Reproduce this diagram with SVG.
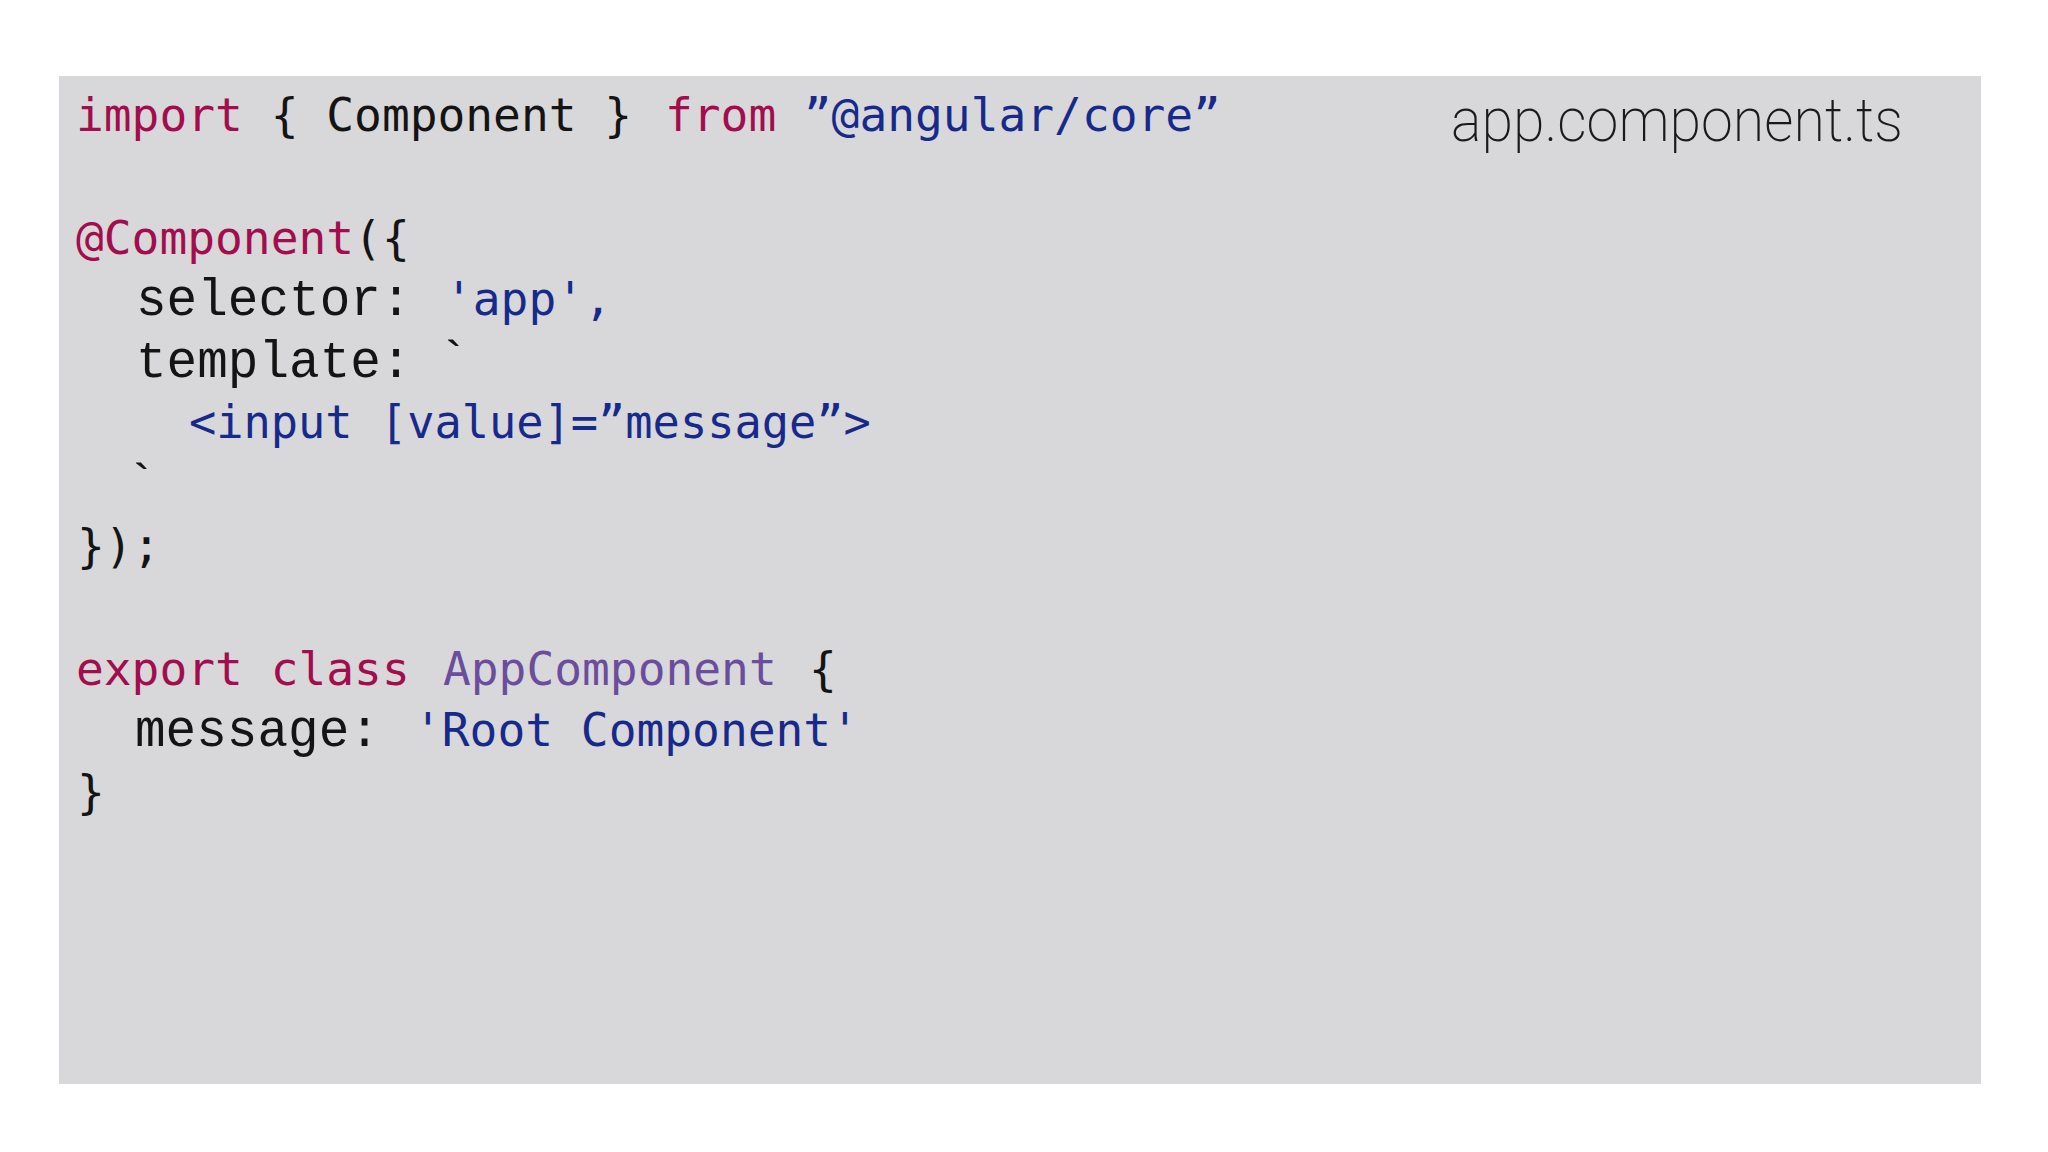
<svg xmlns="http://www.w3.org/2000/svg" width="2048" height="1152" viewBox="0 0 2048 1152">
  <style>
    .code { font-family: "DejaVu Sans Mono", "Liberation Mono", monospace; font-size: 46.2px; }
    .ser { font-family: "Liberation Mono", "DejaVu Sans Mono", monospace; font-size: 51px; fill: #141414; }
    .kw { fill: #a20d4e; }
    .str { fill: #172a8c; }
    .cls { fill: #6b4d9e; }
    .pl { fill: #141414; }
    .title { font-family: Roboto, Inter, "Liberation Sans", sans-serif; font-weight: 200; font-size: 61px; fill: #1a1a1a; }
  </style>
  <rect x="0" y="0" width="2048" height="1152" fill="#ffffff"/>
  <g id="panel">
    <rect x="59" y="76" width="1922" height="1008" fill="#d8d7d9"/>
  </g>
  <g id="title">
    <text class="title" x="1451" y="141" textLength="452" lengthAdjust="spacingAndGlyphs">app.component.ts</text>
  </g>
  <g id="code" xml:space="preserve">
    <text class="code" x="76" y="131"><tspan class="kw">import</tspan><tspan class="pl"> { Component } </tspan><tspan class="kw" x="665">from</tspan><tspan class="str" x="776"> ”@angular/core”</tspan></text>
    <text class="code" x="76" y="254"><tspan class="kw">@Component</tspan><tspan class="pl">({</tspan></text>
    <text class="ser" x="136" y="315">selector:</text>
    <text class="code str" x="445" y="315">'app',</text>
    <text class="ser" x="136" y="377">template:</text>
    <text class="ser" x="438" y="377">`</text>
    <text class="code str" x="189" y="438" style="font-size:45.3px">&lt;input [value]=”message”&gt;</text>
    <text class="ser" x="126" y="500">`</text>
    <text class="code pl" x="77" y="562">});</text>
    <text class="code" x="76" y="685"><tspan class="kw">export</tspan><tspan class="pl"> </tspan><tspan class="kw">class</tspan><tspan class="cls" x="443">AppComponent</tspan><tspan class="pl" x="809">{</tspan></text>
    <text class="ser" x="135" y="746">message:</text>
    <text class="code str" x="414" y="746">'Root Component'</text>
    <text class="code pl" x="77" y="808">}</text>
  </g>
</svg>
